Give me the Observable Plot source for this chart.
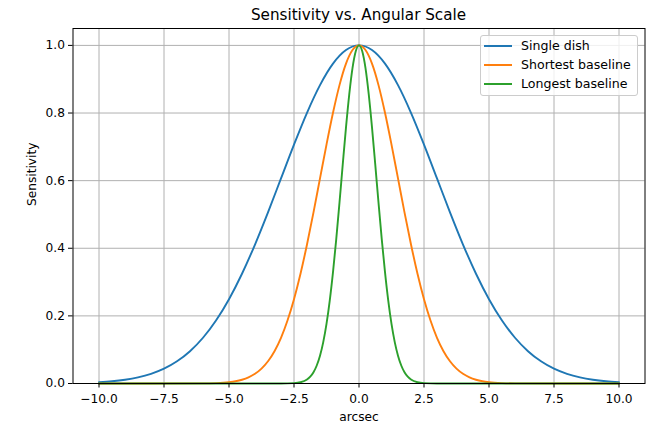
<!DOCTYPE html>
<html>
<head>
<meta charset="utf-8">
<script src="https://cdn.jsdelivr.net/npm/d3@7"></script>
<script src="https://cdn.jsdelivr.net/npm/@observablehq/plot@0.6"></script>
<style>
  html, body { margin: 0; padding: 0; background: #ffffff; }
  body { font-family: "DejaVu Sans", sans-serif; color: #000; }
  #wrap { position: relative; width: 651px; height: 424px; overflow: hidden; }
  #title { position: absolute; left: 72.5px; width: 572px; top: 8px; line-height: 15px;
           font-size: 15.2px; text-align: center; white-space: nowrap; }
  #chart { position: absolute; left: 0; top: 27px; }
  #legend { position: absolute; left: 480px; top: 35px; width: 156px; height: 59px;
            border: 1px solid #cccccc; border-radius: 3px; background: rgba(255,255,255,0.8);
            font-size: 12.6px; }
  .row { display: flex; align-items: center; height: 19.2px; white-space: nowrap; }
  .swatch { display: block; width: 28px; height: 2px; margin-left: 3px; margin-right: 9px; flex: none; }
</style>
</head>
<body>
<div id="wrap">
  <div id="title">Sensitivity vs. Angular Scale</div>
  <div id="chart"></div>
  <div id="legend"></div>
</div>
<script>
// ---- data ----
const seriesNames = ["Single dish", "Shortest baseline", "Longest baseline"];
const seriesColors = ["#1f77b4", "#ff7f0e", "#2ca02c"];

const singleDishX = [-10, -9.5, -9, -8.5, -8, -7.5, -7, -6.5, -6, -5.5, -5, -4.5, -4, -3.5, -3, -2.5, -2, -1.5, -1, -0.5,
  0, 0.5, 1, 1.5, 2, 2.5, 3, 3.5, 4, 4.5, 5, 5.5, 6, 6.5, 7, 7.5, 8, 8.5, 9, 9.5, 10];
const singleDishY = [0.0039, 0.0066, 0.0111, 0.0181, 0.0286, 0.0439, 0.0657, 0.0956, 0.1353, 0.1863, 0.2494, 0.3247, 0.4111, 0.5063, 0.6065, 0.7066, 0.8007, 0.8825, 0.9460, 0.9862,
  1.0, 0.9862, 0.9460, 0.8825, 0.8007, 0.7066, 0.6065, 0.5063, 0.4111, 0.3247, 0.2494, 0.1863, 0.1353, 0.0956, 0.0657, 0.0439, 0.0286, 0.0181, 0.0111, 0.0066, 0.0039];

const shortestX = [-10, -6, -5.5, -5, -4.75, -4.5, -4.25, -4, -3.75, -3.5, -3.25, -3, -2.75, -2.5, -2.25, -2, -1.75, -1.5, -1.25, -1, -0.75, -0.5, -0.25,
  0, 0.25, 0.5, 0.75, 1, 1.25, 1.5, 1.75, 2, 2.25, 2.5, 2.75, 3, 3.25, 3.5, 3.75, 4, 4.25, 4.5, 4.75, 5, 5.5, 6, 10];
const shortestY = [0, 0.0003, 0.0012, 0.0039, 0.0066, 0.0111, 0.0181, 0.0286, 0.0439, 0.0657, 0.0956, 0.1353, 0.1863, 0.2494, 0.3247, 0.4111, 0.5063, 0.6065, 0.7066, 0.8007, 0.8825, 0.9460, 0.9862,
  1.0, 0.9862, 0.9460, 0.8825, 0.8007, 0.7066, 0.6065, 0.5063, 0.4111, 0.3247, 0.2494, 0.1863, 0.1353, 0.0956, 0.0657, 0.0439, 0.0286, 0.0181, 0.0111, 0.0066, 0.0039, 0.0012, 0.0003, 0];

const longestX = [-10, -3, -2.5, -2.25, -2, -1.875, -1.75, -1.625, -1.5, -1.375, -1.25, -1.125, -1, -0.875, -0.75, -0.625, -0.5, -0.375, -0.25, -0.125,
  0, 0.125, 0.25, 0.375, 0.5, 0.625, 0.75, 0.875, 1, 1.125, 1.25, 1.375, 1.5, 1.625, 1.75, 1.875, 2, 2.25, 2.5, 3, 10];
const longestY = [0, 0, 0.0010, 0.0036, 0.0117, 0.0201, 0.0333, 0.0532, 0.0821, 0.1224, 0.1762, 0.2451, 0.3292, 0.4271, 0.5353, 0.6479, 0.7575, 0.8553, 0.9329, 0.9828,
  1.0, 0.9828, 0.9329, 0.8553, 0.7575, 0.6479, 0.5353, 0.4271, 0.3292, 0.2451, 0.1762, 0.1224, 0.0821, 0.0532, 0.0333, 0.0201, 0.0117, 0.0036, 0.0010, 0, 0];

const xTicks = [-10, -7.5, -5, -2.5, 0, 2.5, 5, 7.5, 10];
const yTicks = [0, 0.2, 0.4, 0.6, 0.8, 1.0];
const titleText = "Sensitivity vs. Angular Scale";
const xLabel = "arcsec";
const yLabel = "Sensitivity";

// ---- build table ----
const seriesXs = [singleDishX, shortestX, longestX];
const seriesYs = [singleDishY, shortestY, longestY];
const rows = seriesNames.flatMap((name, i) =>
  seriesXs[i].map((x, j) => ({ series: name, x, y: seriesYs[i][j] })));

const fmt = d3.format(".1f");

const chart = Plot.plot({
  width: 651,
  height: 397,
  marginLeft: 72.5,
  marginRight: 6.5,
  marginTop: 1,
  marginBottom: 41,
  style: { fontFamily: "DejaVu Sans", fontSize: "12.2px", color: "#000", background: "#fff", overflow: "visible" },
  x: { domain: [-11, 11] },
  y: { domain: [0, 1.05] },
  color: { domain: seriesNames, range: seriesColors },
  marks: [
    Plot.gridX(xTicks, { stroke: "#b0b0b0", strokeOpacity: 1, strokeWidth: 1 }),
    Plot.gridY(yTicks, { stroke: "#b0b0b0", strokeOpacity: 1, strokeWidth: 1 }),
    Plot.line(rows, { x: "x", y: "y", z: "series", stroke: "series", strokeWidth: 1.9, curve: "monotone-x" }),
    Plot.frame({ stroke: "#000", strokeWidth: 1 }),
    Plot.axisX(xTicks, { tickSize: 4.5, tickPadding: 6.3, tickFormat: fmt, label: null, fontSize: 12.2, stroke: "#000" }),
    Plot.axisY(yTicks, { tickSize: 4.5, tickPadding: 3.5, tickFormat: fmt, label: null, fontSize: 12.2, stroke: "#000" }),
    Plot.text([xLabel], { frameAnchor: "bottom", lineAnchor: "top", dy: 28.5, text: d => d, fontSize: 12.2, fill: "#000" }),
    Plot.text([yLabel], { frameAnchor: "left", rotate: -90, dx: -40.8, text: d => d, fontSize: 12.2, fill: "#000" })
  ]
});
document.getElementById("chart").appendChild(chart);
document.getElementById("title").textContent = titleText;

const legend = document.getElementById("legend");
seriesNames.forEach((name, i) => {
  const row = document.createElement("div");
  row.className = "row";
  const sw = document.createElement("span");
  sw.className = "swatch";
  sw.style.background = seriesColors[i];
  const label = document.createElement("span");
  label.textContent = name;
  row.appendChild(sw);
  row.appendChild(label);
  legend.appendChild(row);
});
</script>
</body>
</html>
